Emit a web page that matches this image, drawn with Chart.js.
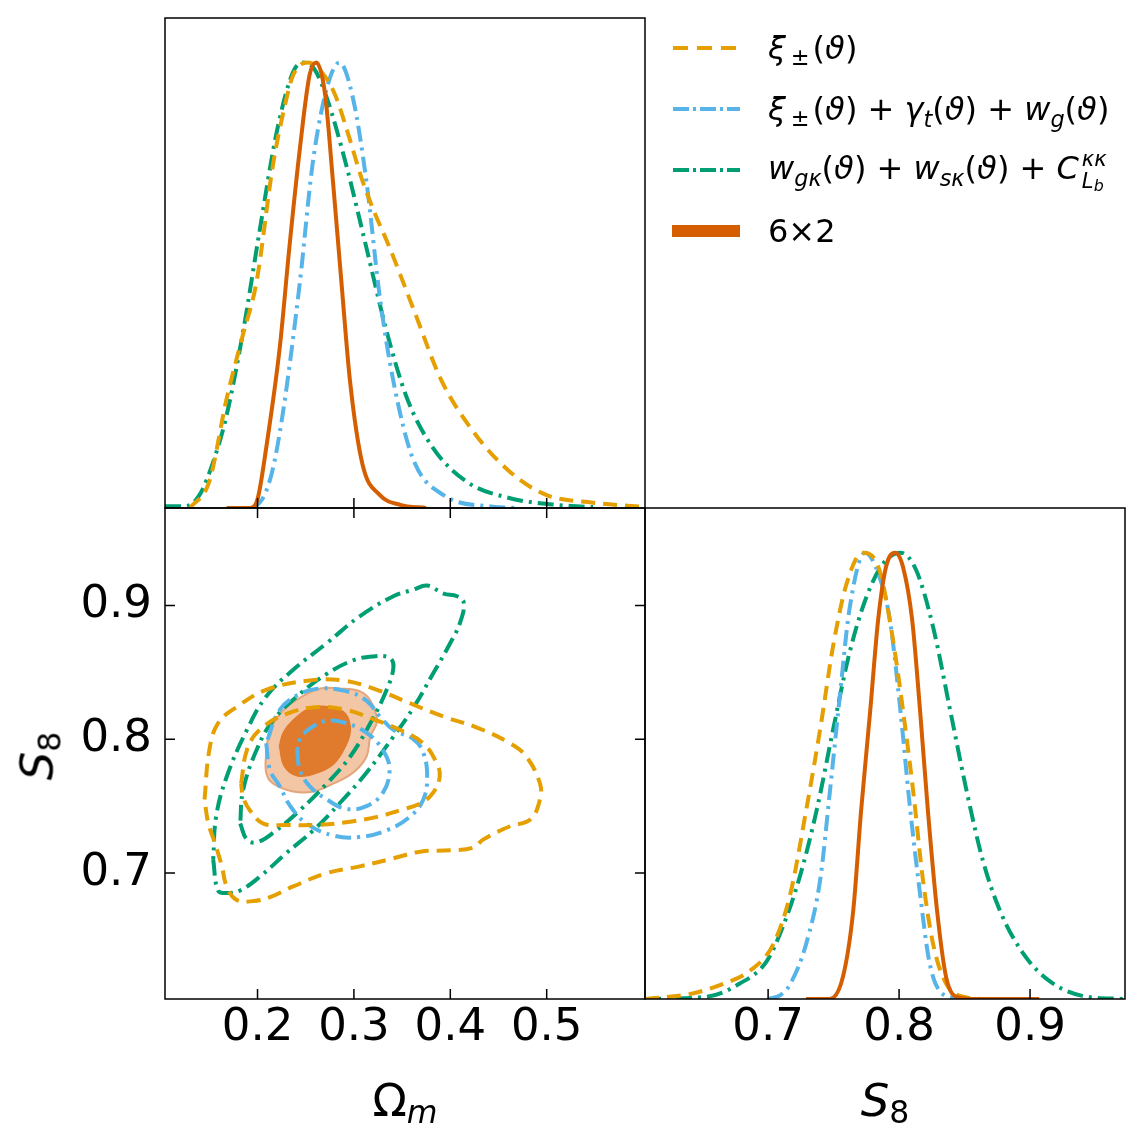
<!DOCTYPE html>
<html>
<head>
<meta charset="utf-8">
<script src="https://cdn.jsdelivr.net/npm/chart.js@4"></script>
<style>
  body { margin: 0; background: #fff; }
  #wrap { position: relative; width: 1140px; height: 1142px; font-family: "DejaVu Sans", sans-serif; color: #000; }
  #wrap canvas { position: absolute; left: 0; top: 0; }
  .lab { position: absolute; font-size: 45px; line-height: 1; transform: translate(-50%, -50%); white-space: nowrap; }
  .lab sub { font-size: 0.7em; vertical-align: -0.25em; line-height: 0; }
  .leg { position: absolute; left: 672px; top: 17px; font-size: 32px; }
  .row { display: flex; align-items: center; height: 61px; white-space: nowrap; }
  .row svg { width: 68px; height: 12px; margin-right: 28px; flex: none; }
  .row sub { font-size: 0.7em; vertical-align: -0.3em; line-height: 0; }
  .row sub.pm { margin: 0 3px 0 5px; }
  .ss { display: inline-flex; flex-direction: column; font-size: 0.66em; line-height: 1; vertical-align: 13px; margin-left: 3px; }
  .ss sub { font-size: 0.75em; vertical-align: -0.2em; }
</style>
</head>
<body>
<div id="wrap">
  <canvas id="top" width="1140" height="1142"></canvas>
  <canvas id="mid" width="1140" height="1142"></canvas>
  <canvas id="side" width="1140" height="1142"></canvas>

  <div class="lab" style="left:405px; top:1100px;">Ω<sub><i>m</i></sub></div>
  <div class="lab" style="left:885px; top:1100px;"><i>S</i><sub>8</sub></div>
  <div class="lab" style="left:37px; top:756px; transform: translate(-50%, -50%) rotate(-90deg);"><i>S</i><sub>8</sub></div>

  <div class="leg">
    <div class="row">
      <svg><line x1="1" y1="6" x2="68" y2="6" stroke="#E69F00" stroke-width="4" stroke-dasharray="15 9"/></svg>
      <span><i>ξ</i><sub class="pm">±</sub>(<i>ϑ</i>)</span>
    </div>
    <div class="row">
      <svg><line x1="1" y1="6" x2="68" y2="6" stroke="#56B4E9" stroke-width="4" stroke-dasharray="16 4 3 4"/></svg>
      <span><i>ξ</i><sub class="pm">±</sub>(<i>ϑ</i>) + <i>γ</i><sub><i>t</i></sub>(<i>ϑ</i>) + <i>w</i><sub><i>g</i></sub>(<i>ϑ</i>)</span>
    </div>
    <div class="row">
      <svg><line x1="1" y1="6" x2="68" y2="6" stroke="#009E73" stroke-width="4" stroke-dasharray="16 4 3 4"/></svg>
      <span><i>w</i><sub><i>gκ</i></sub>(<i>ϑ</i>) + <i>w</i><sub><i>sκ</i></sub>(<i>ϑ</i>) + <i>C</i><span class="ss"><span><i>κκ</i></span><span><i>L</i><sub><i>b</i></sub></span></span></span>
    </div>
    <div class="row">
      <svg><rect x="0" y="0" width="68" height="12" fill="#D55E00"/></svg>
      <span>6×2</span>
    </div>
  </div>
</div>

<script>
// tick values
const omTicks = [0.2, 0.3, 0.4, 0.5];
const s8Ticks = [0.7, 0.8, 0.9];

// 1D marginals of Omega_m  [Omega_m, P/Pmax]
const omXi = [[0.130,0],[0.150,0.06],[0.168,0.246],[0.185,0.39],[0.199,0.508],[0.216,0.77],[0.228,0.90],[0.237,0.972],[0.252,1.0],[0.266,0.98],[0.280,0.93],[0.294,0.84],[0.308,0.74],[0.322,0.66],[0.336,0.59],[0.363,0.44],[0.390,0.29],[0.424,0.171],[0.462,0.081],[0.500,0.029],[0.548,0.012],[0.602,0.002]];
const omXiGW = [[0.195,0],[0.205,0.02],[0.215,0.08],[0.226,0.209],[0.244,0.508],[0.257,0.77],[0.272,0.943],[0.285,1.0],[0.299,0.92],[0.313,0.733],[0.327,0.471],[0.341,0.284],[0.361,0.112],[0.393,0.029],[0.444,0.003],[0.470,0]];
const omWK = [[0.104,0.004],[0.125,0.004],[0.140,0.03],[0.155,0.11],[0.168,0.209],[0.185,0.396],[0.202,0.62],[0.220,0.845],[0.237,0.979],[0.248,1.0],[0.259,0.985],[0.272,0.92],[0.292,0.77],[0.313,0.584],[0.334,0.396],[0.355,0.247],[0.382,0.135],[0.417,0.059],[0.462,0.022],[0.510,0.007],[0.548,0.002]];
const om6x2 = [[0.168,0],[0.192,0],[0.200,0.02],[0.209,0.135],[0.223,0.359],[0.233,0.584],[0.244,0.808],[0.254,0.972],[0.261,1.0],[0.270,0.93],[0.278,0.74],[0.287,0.508],[0.296,0.284],[0.309,0.097],[0.327,0.029],[0.348,0.007],[0.375,0]];

// 1D marginals of S8  [S8, P/Pmax]
const s8Xi = [[0.606,0],[0.640,0.011],[0.666,0.034],[0.686,0.063],[0.704,0.123],[0.717,0.236],[0.729,0.422],[0.740,0.609],[0.750,0.797],[0.760,0.931],[0.772,1.0],[0.785,0.961],[0.795,0.811],[0.803,0.647],[0.811,0.46],[0.818,0.272],[0.826,0.123],[0.836,0.034],[0.852,0.003],[0.862,0]];
const s8XiGW = [[0.700,0],[0.710,0.01],[0.717,0.034],[0.729,0.123],[0.740,0.272],[0.747,0.46],[0.755,0.685],[0.762,0.871],[0.774,1.0],[0.785,0.946],[0.793,0.849],[0.801,0.647],[0.808,0.438],[0.816,0.236],[0.823,0.085],[0.831,0.018],[0.845,0]];
const s8WK = [[0.606,0],[0.653,0.005],[0.678,0.034],[0.699,0.085],[0.711,0.16],[0.724,0.272],[0.737,0.422],[0.750,0.609],[0.762,0.774],[0.775,0.9],[0.788,0.976],[0.801,1.0],[0.813,0.961],[0.826,0.833],[0.839,0.647],[0.852,0.46],[0.864,0.31],[0.877,0.198],[0.895,0.101],[0.915,0.04],[0.940,0.007],[0.971,0]];
const s86x2 = [[0.729,0],[0.747,0],[0.757,0.048],[0.765,0.198],[0.771,0.422],[0.778,0.647],[0.784,0.849],[0.790,0.968],[0.797,1.0],[0.803,0.968],[0.810,0.849],[0.816,0.647],[0.822,0.422],[0.829,0.198],[0.836,0.048],[0.846,0.003],[0.860,0],[0.907,0]];

// 2D contours  [Omega_m, S8]
const xi95 = [[0.145,0.755],[0.150,0.792],[0.159,0.812],[0.178,0.824],[0.209,0.837],[0.254,0.844],[0.289,0.844],[0.324,0.837],[0.358,0.827],[0.393,0.817],[0.427,0.809],[0.462,0.797],[0.479,0.787],[0.493,0.767],[0.493,0.755],[0.483,0.740],[0.462,0.735],[0.434,0.725],[0.424,0.719],[0.400,0.717],[0.369,0.716],[0.341,0.711],[0.306,0.705],[0.272,0.700],[0.237,0.690],[0.213,0.682],[0.195,0.679],[0.178,0.680],[0.168,0.690],[0.163,0.705],[0.156,0.722],[0.149,0.737]];
const xi68 = [[0.183,0.767],[0.189,0.792],[0.202,0.807],[0.230,0.819],[0.261,0.824],[0.292,0.822],[0.324,0.814],[0.348,0.807],[0.372,0.797],[0.386,0.782],[0.389,0.772],[0.382,0.760],[0.369,0.752],[0.348,0.747],[0.324,0.742],[0.292,0.738],[0.261,0.736],[0.230,0.736],[0.206,0.737],[0.192,0.747],[0.185,0.757]];
const gw95 = [[0.209,0.797],[0.213,0.777],[0.223,0.765],[0.234,0.750],[0.251,0.737],[0.279,0.728],[0.306,0.727],[0.334,0.732],[0.358,0.742],[0.372,0.755],[0.376,0.772],[0.372,0.790],[0.362,0.800],[0.341,0.807],[0.327,0.817],[0.313,0.829],[0.292,0.836],[0.265,0.838],[0.244,0.834],[0.223,0.822]];
const gw68 = [[0.241,0.792],[0.244,0.777],[0.254,0.765],[0.272,0.755],[0.292,0.748],[0.313,0.750],[0.330,0.760],[0.337,0.777],[0.330,0.792],[0.313,0.805],[0.292,0.812],[0.272,0.814],[0.254,0.808],[0.244,0.800]];
const wk95 = [[0.154,0.710],[0.159,0.687],[0.168,0.685],[0.182,0.687],[0.202,0.697],[0.230,0.715],[0.258,0.732],[0.285,0.752],[0.313,0.775],[0.341,0.802],[0.362,0.824],[0.382,0.849],[0.400,0.872],[0.410,0.887],[0.414,0.902],[0.407,0.907],[0.393,0.909],[0.376,0.915],[0.362,0.912],[0.341,0.907],[0.306,0.892],[0.272,0.872],[0.237,0.852],[0.209,0.832],[0.189,0.807],[0.168,0.772],[0.157,0.742]];
const wk68 = [[0.182,0.737],[0.189,0.725],[0.199,0.723],[0.216,0.730],[0.244,0.747],[0.272,0.767],[0.296,0.787],[0.317,0.812],[0.334,0.837],[0.341,0.854],[0.337,0.861],[0.320,0.862],[0.299,0.859],[0.272,0.849],[0.244,0.834],[0.216,0.814],[0.199,0.792],[0.185,0.762]];
const six95 = [[0.209,0.792],[0.209,0.775],[0.216,0.767],[0.237,0.761],[0.258,0.761],[0.279,0.767],[0.299,0.775],[0.313,0.787],[0.317,0.802],[0.324,0.814],[0.317,0.829],[0.306,0.836],[0.285,0.838],[0.265,0.838],[0.244,0.831],[0.227,0.822],[0.213,0.807]];
const six68 = [[0.223,0.795],[0.228,0.780],[0.241,0.773],[0.261,0.775],[0.279,0.782],[0.291,0.795],[0.296,0.807],[0.291,0.819],[0.275,0.824],[0.254,0.823],[0.237,0.814],[0.227,0.805]];

const ORANGE = '#E69F00', BLUE = '#56B4E9', GREEN = '#009E73', RED = '#D55E00';
const DASH = [14, 8], DASHDOT = [16, 6, 3, 6];

function toXY(pts) {
  return pts.map(p => ({ x: p[0], y: p[1] }));
}

function curve(pts, color, dash) {
  return {
    data: toXY(pts), borderColor: color, borderDash: dash, borderWidth: 4,
    showLine: true, pointRadius: 0, fill: false, cubicInterpolationMode: 'monotone', order: 0
  };
}

function ring(pts, color, dash) {
  return {
    data: toXY(pts.concat([pts[0]])), borderColor: color, borderDash: dash, borderWidth: 4,
    showLine: true, pointRadius: 0, fill: false, tension: 0.4, order: 0
  };
}

function blob(pts, fillColor, edge, order) {
  return {
    data: toXY(pts.concat([pts[0]])), borderColor: edge, borderWidth: 2, backgroundColor: fillColor,
    showLine: true, pointRadius: 0, fill: 'shape', tension: 0.4, order: order
  };
}

// frame and inward tick marks, placed with the chart's own scales
const frameTicks = {
  id: 'frameTicks',
  afterDraw(chart, args, opts) {
    const { ctx, chartArea: a, scales } = chart;
    const len = 10;
    ctx.save();
    ctx.strokeStyle = '#000';
    ctx.lineWidth = 1.5;
    ctx.strokeRect(a.left, a.top, a.right - a.left, a.bottom - a.top);
    ctx.beginPath();
    opts.sides.forEach(side => {
      const sc = (side === 'bottom' || side === 'top') ? scales.x : scales.y;
      sc.ticks.forEach(t => {
        const p = sc.getPixelForValue(t.value);
        if (side === 'bottom') { ctx.moveTo(p, a.bottom); ctx.lineTo(p, a.bottom - len); }
        if (side === 'top') { ctx.moveTo(p, a.top); ctx.lineTo(p, a.top + len); }
        if (side === 'left') { ctx.moveTo(a.left, p); ctx.lineTo(a.left + len, p); }
        if (side === 'right') { ctx.moveTo(a.right, p); ctx.lineTo(a.right - len, p); }
      });
    });
    ctx.stroke();
    ctx.restore();
  }
};

// size = room reserved for tick labels (0 when the axis shows none)
function axis(min, max, ticks, size, pad) {
  return {
    type: 'linear', min: min, max: max,
    afterBuildTicks: sc => { sc.ticks = ticks.map(v => ({ value: v })); },
    afterFit: sc => { if (sc.isHorizontal()) sc.height = size; else sc.width = size; },
    grid: { display: false, drawTicks: false }, border: { display: false },
    ticks: {
      display: size > 0, autoSkip: false, maxRotation: 0, padding: pad || 0, color: '#000',
      font: { family: 'DejaVu Sans', size: 45 },
      callback: v => v.toFixed(1)
    }
  };
}

function panel(id, box, xScale, yScale, datasets, sides, xRoom, yRoom) {
  return new Chart(document.getElementById(id), {
    type: 'scatter',
    data: { datasets: datasets },
    options: {
      responsive: false, animation: false, devicePixelRatio: 1,
      layout: { padding: { left: box[0] - yRoom, top: box[1], right: 1140 - box[2], bottom: 1142 - box[3] - xRoom } },
      scales: { x: xScale, y: yScale },
      plugins: { legend: { display: false }, tooltip: { enabled: false }, frameTicks: { sides: sides } }
    },
    plugins: [frameTicks]
  });
}

panel('top', [165, 18, 645, 508],
  axis(0.104, 0.602, omTicks, 0), axis(0, 1.1, [], 0),
  [curve(om6x2, RED), curve(omXi, ORANGE, DASH), curve(omXiGW, BLUE, DASHDOT), curve(omWK, GREEN, DASHDOT)],
  ['bottom'], 0, 0);

panel('mid', [165, 508, 645, 999],
  axis(0.104, 0.602, omTicks, 140, 2), axis(0.6058, 0.973, s8Ticks, 160, 13),
  [ring(xi95, ORANGE, DASH), ring(xi68, ORANGE, DASH), ring(gw95, BLUE, DASHDOT), ring(gw68, BLUE, DASHDOT),
   ring(wk95, GREEN, DASHDOT), ring(wk68, GREEN, DASHDOT),
   blob(six68, '#E07A2C', '#E07A2C', 5), blob(six95, '#F3C6A5', '#E3A57C', 6)],
  ['bottom', 'top', 'left', 'right'], 140, 160);

panel('side', [645, 508, 1125, 999],
  axis(0.606, 0.9725, s8Ticks, 140, 2), axis(0, 1.1, [], 0),
  [curve(s86x2, RED), curve(s8Xi, ORANGE, DASH), curve(s8XiGW, BLUE, DASHDOT), curve(s8WK, GREEN, DASHDOT)],
  ['bottom'], 140, 0);
</script>
</body>
</html>
